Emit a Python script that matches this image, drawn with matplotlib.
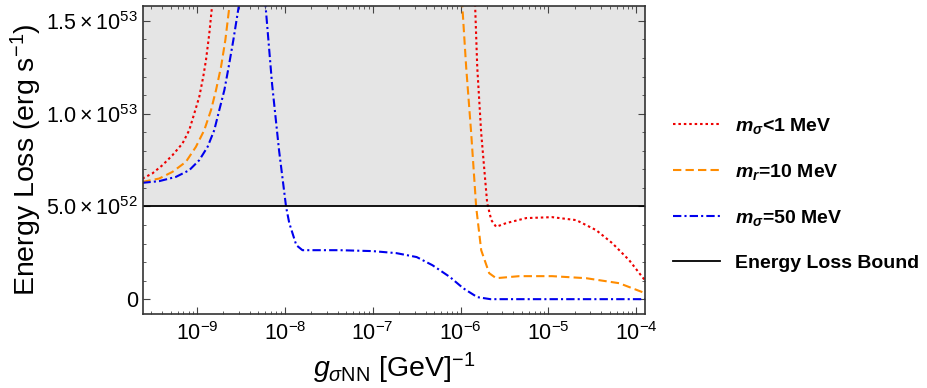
import matplotlib
matplotlib.use("Agg")
import matplotlib.pyplot as plt
import numpy as np

plt.rcParams['font.family'] = ['Liberation Sans', 'DejaVu Sans']
plt.rcParams['mathtext.fontset'] = 'custom'
plt.rcParams['mathtext.rm'] = 'Liberation Sans'
plt.rcParams['mathtext.it'] = 'Liberation Sans:italic'
plt.rcParams['mathtext.bf'] = 'Liberation Sans:bold'
plt.rcParams['mathtext.bfit'] = 'Liberation Sans:italic:bold'

# log10(g) and energy loss in units of 1e52 erg/s
red_logg = [-9.622, -9.508, -9.394, -9.280, -9.166, -9.089, -9.032, -8.975,
            -8.929, -8.898, -8.861, -8.830, -8.78,
            -5.90, -5.834, -5.81, -5.765, -5.697, -5.65, -5.595, -5.48, -5.253,
            -4.957, -4.683, -4.456, -4.273, -4.08, -3.93, -3.88]
red_E = [6.5, 6.78, 7.22, 7.76, 8.39, 9.11, 10.0, 10.9,
         12.0, 12.9, 14.3, 15.76, 19.0,
         19.0, 15.8, 12.5, 8.95, 5.18, 4.26, 3.9, 4.1, 4.37,
         4.42, 4.26, 3.72, 3.02, 2.1, 1.19, 0.9]

orange_logg = [-9.622, -9.432, -9.280, -9.127, -9.013, -8.918, -8.841, -8.784,
               -8.727, -8.678, -8.632, -8.58,
               -6.06, -5.98, -5.936, -5.879, -5.822, -5.765, -5.674, -5.595,
               -5.333, -4.957, -4.57, -4.194, -3.93, -3.88]
orange_E = [6.32, 6.5, 6.86, 7.4, 8.21, 9.11, 10.19, 11.27,
            12.52, 13.96, 15.76, 19.0,
            19.0, 15.8, 12.5, 8.95, 4.96, 2.64, 1.40, 1.13,
            1.24, 1.24, 1.13, 0.86, 0.38, 0.3]

blue_logg = [-9.622, -9.432, -9.241, -9.089, -8.975, -8.880, -8.804, -8.747,
             -8.689, -8.640, -8.587, -8.526, -8.36,
             -8.22, -8.146, -8.066, -7.986, -7.95, -7.87, -7.80, -7.38,
             -7.0, -6.73, -6.50, -6.32, -6.12, -5.97, -5.81, -5.66, -3.88]
blue_E = [6.27, 6.36, 6.59, 6.95, 7.49, 8.21, 9.11, 10.19,
          11.27, 12.52, 13.96, 15.76, 20.0,
          15.8, 11.6, 8.0, 4.96, 4.1, 2.91, 2.64, 2.64,
          2.59, 2.48, 2.27, 1.83, 1.19, 0.59, 0.11, 0.0, 0.0]

bound = 5.0e52
labels = [r'$\mathbfit{m_\sigma}$<1 MeV', r'$\mathbfit{m_r}$=10 MeV',
          r'$\mathbfit{m_\sigma}$=50 MeV', 'Energy Loss Bound']
yticks = [0, 5.0e52, 1.0e53, 1.5e53]
ytick_labels = ['0', r'$5.0\times10^{52}$', r'$1.0\times10^{53}$', r'$1.5\times10^{53}$']

fig = plt.figure(figsize=(9.27, 3.88), dpi=100)
ax = fig.add_axes([0.1543, 0.1907, 0.5415, 0.7938])

xlo, xhi = 10**-9.615, 10**-3.90
ylo, yhi = -0.8e52, 1.58e53
ax.fill_between([xlo, xhi], bound, yhi, color='#e5e5e5', zorder=0, lw=0)

ax.plot(10**np.array(red_logg), np.array(red_E) * 1e52, color='#ee0000', ls=(0, (1.2, 1.4)), lw=1.5, label=labels[0])
ax.plot(10**np.array(orange_logg), np.array(orange_E) * 1e52, color='#ff8c00', ls=(0, (4, 2)), lw=1.5, label=labels[1])
ax.plot(10**np.array(blue_logg), np.array(blue_E) * 1e52, color='#0000ee', ls=(0, (4, 1.5, 1, 1.5)), lw=1.5, label=labels[2])
ax.axhline(bound, color='black', lw=1.3, label=labels[3])

ax.set_xscale('log')
ax.set_xlim(xlo, xhi)
ax.set_ylim(ylo, yhi)
ax.set_yticks(yticks)
ax.set_yticklabels(ytick_labels)
ax.set_yticks(np.arange(0, 1.6e53, 1e52), minor=True)
ax.set_xticks([1e-9, 1e-8, 1e-7, 1e-6, 1e-5, 1e-4])
ax.tick_params(which='both', direction='in', top=True, right=True, labelsize=15.5, color='#444444')
ax.tick_params(which='major', length=5)
ax.tick_params(which='minor', length=2.5)
ax.tick_params(axis='x', pad=6)
for s in ax.spines.values():
    s.set_color('#333333')
    s.set_linewidth(1.2)

ax.set_xlabel(r'$g_{\sigma\mathrm{NN}}$ [GeV]$^{-1}$', fontsize=20.5, labelpad=4)
ax.set_ylabel(r'Energy Loss (erg s$^{-1}$)', fontsize=20.5, labelpad=2)

leg = ax.legend(loc='center left', bbox_to_anchor=(1.056, 0.39), frameon=False,
                borderpad=0, borderaxespad=0,
                handlelength=2.4, handletextpad=0.8, labelspacing=1.35,
                prop={'weight': 'bold', 'size': 14})

fig.savefig('out.png', dpi=100)
